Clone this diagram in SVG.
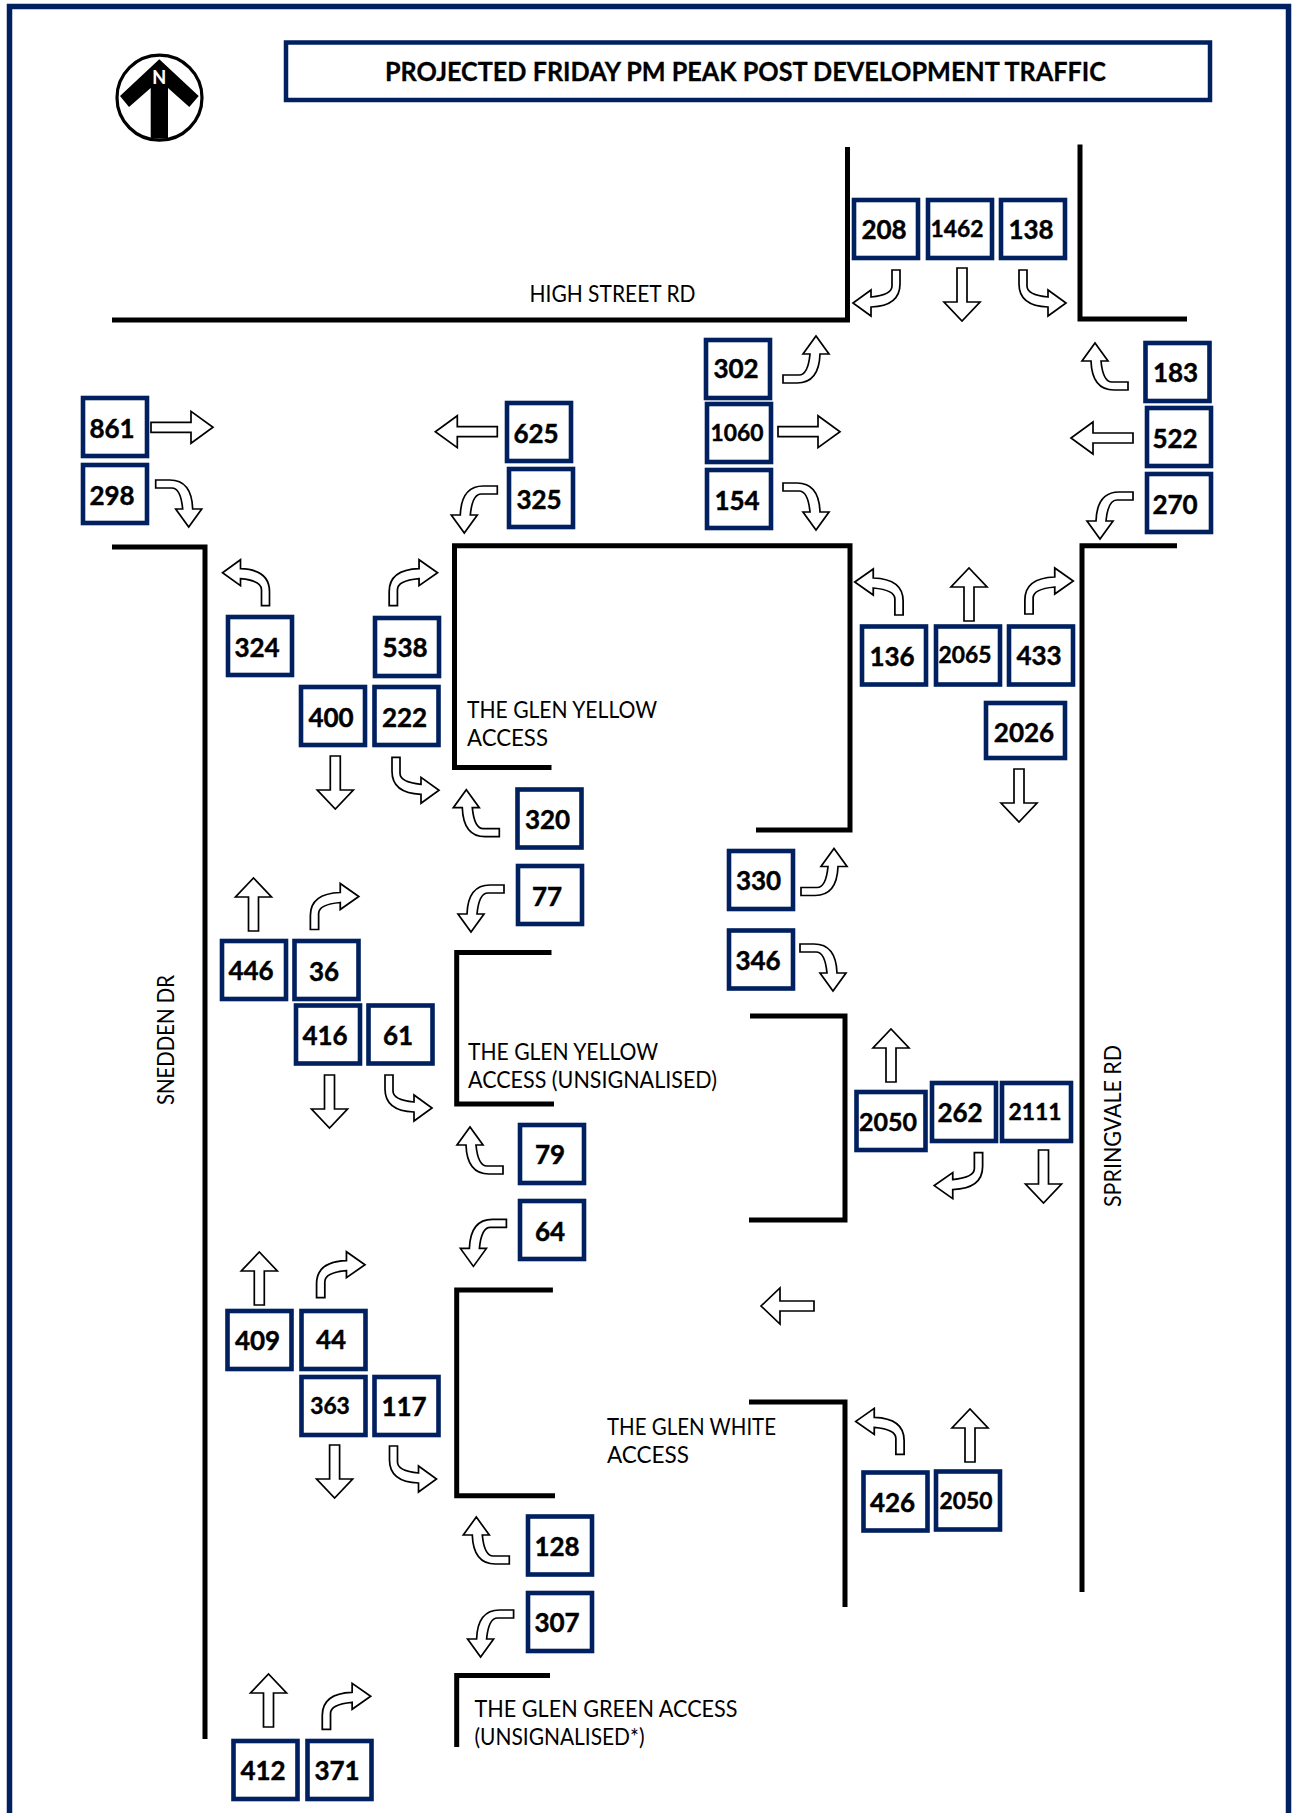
<svg xmlns="http://www.w3.org/2000/svg" width="1296" height="1813" viewBox="0 0 1296 1813">
<style>
.b{fill:#fff;stroke:#002060;stroke-width:4.6}
.n{font-family:Lato,"Open Sans",sans-serif;font-weight:700;font-size:26px;text-anchor:middle;fill:#000;stroke:#000;stroke-width:.45}
.s{font-size:22.8px}
.r{fill:none;stroke:#000;stroke-width:5}
.a{fill:#fff;stroke:#000;stroke-width:1.7;stroke-linejoin:miter}
.l{font-family:Lato,"Liberation Sans",sans-serif;font-size:24px;fill:#000}
</style>
<defs>
<path id="t" class="a" d="M0,-4 H16 Q25,-4 27,-25 H20 L33,-43 L46,-25 H37 Q36,4 14,4 H0 Z"/>
<path id="h" class="a" d="M0,-5 H40 V-16 L62,0 L40,16 V5 H0 Z"/>
<path id="v" class="a" d="M0,-5 H34 V-18 L53,0 L34,18 V5 H0 Z"/>
</defs>
<rect width="1296" height="1813" fill="#fff"/>
<rect x="9.5" y="6.5" width="1279" height="1840" fill="none" stroke="#002060" stroke-width="5.5"/>
<g id="title">
<rect x="286" y="42.5" width="924" height="57.5" fill="#fff" stroke="#002060" stroke-width="4.5"/>
<text x="745.5" y="81" font-family="Lato,sans-serif" font-weight="700" font-size="26.5" text-anchor="middle" textLength="721" lengthAdjust="spacingAndGlyphs" stroke="#000" stroke-width=".3">PROJECTED FRIDAY PM PEAK POST DEVELOPMENT TRAFFIC</text>
</g>
<g id="north">
<circle cx="159.5" cy="97.7" r="42.5" fill="#fff" stroke="#000" stroke-width="3.2"/>
<path d="M159.3,59.3 L198.7,96 L189.3,107 L168,88 V138.5 H150.7 V88 L129,107 L120,96 Z" fill="#000"/>
<text x="159.3" y="84" font-family="Lato,sans-serif" font-weight="900" font-size="18" text-anchor="middle" fill="#fff">N</text>
</g>
<g id="roads">
<path class="r" d="M112,320 H847.5 V147"/>
<path class="r" d="M1080,144.5 V319 H1187"/>
<path class="r" d="M112,547 H205 V1739"/>
<path class="r" d="M551.5,767.6 H454.5 V545.7 H850 V830 H756"/>
<path class="r" d="M1177,545.7 H1082 V1592"/>
<path class="r" d="M551.5,952.6 H456.7 V1104 H554"/>
<path class="r" d="M750,1016 H845 V1220 H749"/>
<path class="r" d="M749,1402 H845 V1607"/>
<path class="r" d="M552.9,1290 H456.7 V1495.7 H555"/>
<path class="r" d="M550,1675.4 H456.7 V1747"/>
</g>
<g id="labels">
<text class="l" x="529.5" y="302" textLength="166" lengthAdjust="spacingAndGlyphs">HIGH STREET RD</text>
<text class="l" x="467" y="718" textLength="190" lengthAdjust="spacingAndGlyphs">THE GLEN YELLOW</text>
<text class="l" x="467" y="746" textLength="81" lengthAdjust="spacingAndGlyphs">ACCESS</text>
<text class="l" x="468" y="1060" textLength="190" lengthAdjust="spacingAndGlyphs">THE GLEN YELLOW</text>
<text class="l" x="468" y="1088" textLength="249" lengthAdjust="spacingAndGlyphs">ACCESS (UNSIGNALISED)</text>
<text class="l" x="607" y="1435" textLength="169" lengthAdjust="spacingAndGlyphs">THE GLEN WHITE</text>
<text class="l" x="607" y="1463" textLength="82" lengthAdjust="spacingAndGlyphs">ACCESS</text>
<text class="l" x="474.5" y="1717" textLength="263" lengthAdjust="spacingAndGlyphs">THE GLEN GREEN ACCESS</text>
<text class="l" x="474.5" y="1745" textLength="170" lengthAdjust="spacingAndGlyphs">(UNSIGNALISED*)</text>
<text class="l" transform="translate(173.5,1105) rotate(-90)" textLength="130" lengthAdjust="spacingAndGlyphs">SNEDDEN DR</text>
<text class="l" transform="translate(1120.5,1207) rotate(-90)" textLength="162" lengthAdjust="spacingAndGlyphs">SPRINGVALE RD</text>
</g>
<g id="connectors">
<use href="#t" transform="translate(896,270) scale(-1,1) rotate(90)"/>
<use href="#v" transform="translate(962,268) rotate(90)"/>
<use href="#t" transform="translate(1023,270) rotate(90)"/>
<use href="#t" transform="translate(783,379)"/>
<use href="#h" transform="translate(778,431.7)"/>
<use href="#t" transform="translate(783,487) scale(1,-1)"/>
<use href="#t" transform="translate(1128,386) scale(-1,1)"/>
<use href="#h" transform="translate(1133,438) scale(-1,1)"/>
<use href="#t" transform="translate(1133,496) scale(-1,-1)"/>
<use href="#h" transform="translate(151,427.3)"/>
<use href="#t" transform="translate(155.7,484) scale(1,-1)"/>
<use href="#h" transform="translate(497.3,431.7) scale(-1,1)"/>
<use href="#t" transform="translate(497.3,490) scale(-1,-1)"/>
<use href="#t" transform="translate(265.5,605.7) scale(-1,-1) rotate(90)"/>
<use href="#t" transform="translate(393.3,605.7) scale(1.03,-1) rotate(90)"/>
<use href="#v" transform="translate(335.3,756) rotate(90)"/>
<use href="#t" transform="translate(396,757.3) rotate(90)"/>
<use href="#t" transform="translate(499.3,832.7) scale(-1,1)"/>
<use href="#t" transform="translate(504,889) scale(-1,-1)"/>
<use href="#t" transform="translate(801,891.5)"/>
<use href="#t" transform="translate(800,948) scale(1,-1)"/>
<use href="#v" transform="translate(253.5,931) rotate(-90)"/>
<use href="#t" transform="translate(314.5,929.5) scale(1.03,-1) rotate(90)"/>
<use href="#v" transform="translate(329.5,1075) rotate(90)"/>
<use href="#t" transform="translate(389,1075) rotate(90)"/>
<use href="#t" transform="translate(503,1170) scale(-1,1)"/>
<use href="#t" transform="translate(506.4,1223.4) scale(-1,-1)"/>
<use href="#v" transform="translate(259.3,1305) rotate(-90)"/>
<use href="#t" transform="translate(320.7,1297.7) scale(1.03,-1) rotate(90)"/>
<use href="#v" transform="translate(334.6,1445) rotate(90)"/>
<use href="#t" transform="translate(393.5,1446) rotate(90)"/>
<use href="#t" transform="translate(509.3,1560) scale(-1,1)"/>
<use href="#t" transform="translate(513.6,1614) scale(-1,-1)"/>
<use href="#v" transform="translate(268.5,1727) rotate(-90)"/>
<use href="#t" transform="translate(326.4,1729.3) scale(1.03,-1) rotate(90)"/>
<use href="#t" transform="translate(899,615) scale(-1.03,-1) rotate(90)"/>
<use href="#v" transform="translate(969,621) rotate(-90)"/>
<use href="#t" transform="translate(1029,614) scale(1.03,-1) rotate(90)"/>
<use href="#v" transform="translate(1019,769) rotate(90)"/>
<use href="#v" transform="translate(891,1082) rotate(-90)"/>
<use href="#t" transform="translate(978.5,1152.6) scale(-1.03,1) rotate(90)"/>
<use href="#v" transform="translate(1043.5,1150) rotate(90)"/>
<use href="#v" transform="translate(814,1306) scale(-1,1)"/>
<use href="#t" transform="translate(900,1454.4) scale(-1.03,-1) rotate(90)"/>
<use href="#v" transform="translate(970,1462) rotate(-90)"/>
</g>
<g id="n208"><rect class="b" x="854" y="200" width="64" height="58"/><text class="n" x="884" y="239">208</text></g>
<g id="n1462"><rect class="b" x="928" y="200" width="64" height="58"/><text class="n s" x="957" y="237">1462</text></g>
<g id="n138"><rect class="b" x="1001" y="200" width="64" height="58"/><text class="n" x="1031" y="239">138</text></g>
<g id="n302"><rect class="b" x="706" y="340" width="64" height="58"/><text class="n" x="736" y="378">302</text></g>
<g id="n1060"><rect class="b" x="707" y="404" width="64" height="58"/><text class="n s" x="737" y="441">1060</text></g>
<g id="n154"><rect class="b" x="707" y="470" width="64" height="58"/><text class="n" x="737" y="510">154</text></g>
<g id="n183"><rect class="b" x="1145.5" y="343" width="64" height="58"/><text class="n" x="1175.5" y="382">183</text></g>
<g id="n522"><rect class="b" x="1147" y="408" width="64" height="58"/><text class="n" x="1175" y="448">522</text></g>
<g id="n270"><rect class="b" x="1147" y="474" width="64" height="58"/><text class="n" x="1175" y="514">270</text></g>
<g id="n861"><rect class="b" x="83" y="398" width="64" height="58"/><text class="n" x="112" y="438">861</text></g>
<g id="n298"><rect class="b" x="83" y="465" width="64" height="58"/><text class="n" x="112" y="505">298</text></g>
<g id="n625"><rect class="b" x="507" y="403" width="64" height="58"/><text class="n" x="536" y="443">625</text></g>
<g id="n325"><rect class="b" x="509" y="469" width="64" height="58"/><text class="n" x="539" y="509">325</text></g>
<g id="n324"><rect class="b" x="228" y="617" width="64" height="58"/><text class="n" x="257" y="657">324</text></g>
<g id="n538"><rect class="b" x="375" y="618" width="64" height="58"/><text class="n" x="405" y="657">538</text></g>
<g id="n400"><rect class="b" x="301" y="687" width="64" height="58"/><text class="n" x="331" y="727">400</text></g>
<g id="n222"><rect class="b" x="374.5" y="687" width="64" height="58"/><text class="n" x="404.5" y="727">222</text></g>
<g id="n136"><rect class="b" x="862" y="626.5" width="64" height="58"/><text class="n" x="892" y="666">136</text></g>
<g id="n2065"><rect class="b" x="936" y="626.5" width="64" height="58"/><text class="n s" x="965" y="663">2065</text></g>
<g id="n433"><rect class="b" x="1009" y="626.5" width="64" height="58"/><text class="n" x="1039" y="665">433</text></g>
<g id="n2026"><rect class="b" x="986" y="703" width="79" height="55"/><text class="n" x="1024" y="742">2026</text></g>
<g id="n320"><rect class="b" x="517.5" y="789.5" width="64" height="58"/><text class="n" x="547.5" y="829">320</text></g>
<g id="n77"><rect class="b" x="518" y="866" width="64" height="58"/><text class="n" x="547" y="906">77</text></g>
<g id="n330"><rect class="b" x="729" y="851" width="64" height="58"/><text class="n" x="758.5" y="890">330</text></g>
<g id="n346"><rect class="b" x="729" y="930.5" width="64" height="58"/><text class="n" x="758" y="970">346</text></g>
<g id="n446"><rect class="b" x="222" y="941" width="64" height="58"/><text class="n" x="251" y="980">446</text></g>
<g id="n36"><rect class="b" x="294.5" y="941" width="64" height="58"/><text class="n" x="324" y="981">36</text></g>
<g id="n416"><rect class="b" x="296" y="1005.5" width="64" height="58"/><text class="n" x="325" y="1045">416</text></g>
<g id="n61"><rect class="b" x="368.5" y="1005.5" width="64" height="58"/><text class="n" x="398" y="1045">61</text></g>
<g id="n79"><rect class="b" x="520" y="1125" width="64" height="58"/><text class="n" x="550" y="1164">79</text></g>
<g id="n64"><rect class="b" x="520" y="1201" width="64" height="58"/><text class="n" x="550" y="1241">64</text></g>
<g id="n2050a"><rect class="b" x="856.5" y="1092" width="69" height="58"/><text class="n" x="888" y="1131" style="font-size:25px">2050</text></g>
<g id="n262"><rect class="b" x="932" y="1083" width="64" height="58"/><text class="n" x="960" y="1122">262</text></g>
<g id="n2111"><rect class="b" x="1002" y="1083" width="69" height="58"/><text class="n s" x="1035" y="1120">2111</text></g>
<g id="n409"><rect class="b" x="227.5" y="1311" width="64" height="58"/><text class="n" x="257.5" y="1350">409</text></g>
<g id="n44"><rect class="b" x="301.5" y="1311" width="64" height="58"/><text class="n" x="331" y="1349">44</text></g>
<g id="n363"><rect class="b" x="301.5" y="1377" width="64" height="58"/><text class="n s" x="330" y="1414">363</text></g>
<g id="n117"><rect class="b" x="374.5" y="1377" width="64" height="58"/><text class="n" x="404" y="1416">117</text></g>
<g id="n128"><rect class="b" x="528" y="1516.5" width="64" height="58"/><text class="n" x="557" y="1556">128</text></g>
<g id="n307"><rect class="b" x="528" y="1593" width="64" height="58"/><text class="n" x="557" y="1632">307</text></g>
<g id="n426"><rect class="b" x="863.5" y="1472.5" width="64" height="58"/><text class="n" x="892.5" y="1512">426</text></g>
<g id="n2050b"><rect class="b" x="936" y="1471.5" width="64" height="58"/><text class="n s" x="966" y="1509">2050</text></g>
<g id="n412"><rect class="b" x="233.5" y="1741" width="64" height="58"/><text class="n" x="263" y="1780">412</text></g>
<g id="n371"><rect class="b" x="307.5" y="1741" width="64" height="58"/><text class="n" x="337" y="1780">371</text></g>
</svg>
